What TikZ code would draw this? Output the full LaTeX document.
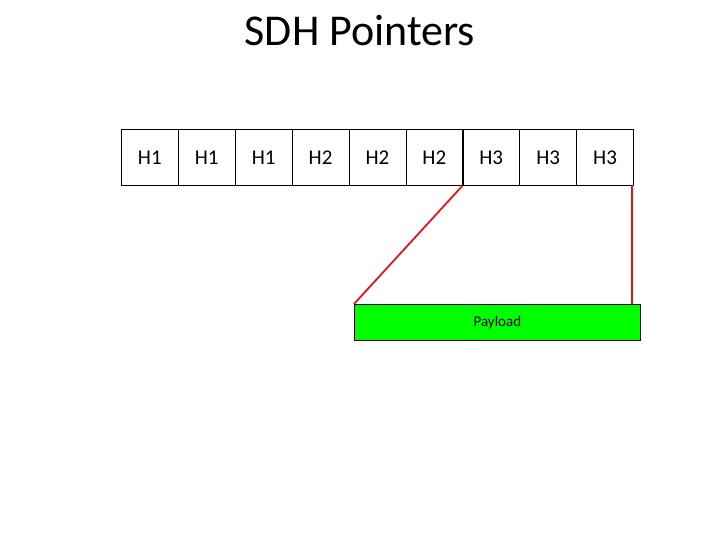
\documentclass[tikz,border=0pt]{standalone}
\usepackage{fontspec}
\setmainfont{Carlito}
\begin{document}
\begin{tikzpicture}[x=1pt,y=-1pt,
  cell/.style={draw=black,line width=0.8pt,minimum width=56.9pt,minimum height=56pt,inner sep=0pt,anchor=north west,font=\fontsize{21}{24}\selectfont},
  payloadbox/.style={draw=black,line width=0.8pt,fill={rgb,255:red,0;green,255;blue,0},minimum width=286pt,minimum height=36pt,inner sep=0pt,anchor=north west,font=\fontsize{15}{17}\selectfont},
  link/.style={draw={rgb,255:red,230;green,20;blue,20},line width=1.8pt}]
\useasboundingbox (0,0) rectangle (720,540);
\node[font=\fontsize{44}{48}\selectfont] (title) at (360,31) {SDH Pointers};
\foreach \i/\t in {0/H1,1/H1,2/H1,3/H2,4/H2,5/H2,6/H3,7/H3,8/H3}{
  \node[cell] (c\i) at ({121+\i*56.9},129) {\t};
}
\draw[line width=1.6pt] (c5.north east) -- (c5.south east);
\node[payloadbox] (pay) at (354,304) {Payload};
\coordinate (rt) at (632,185);
\coordinate (rb) at (632,304);
\draw[link] (c6.south west) -- (pay.north west);
\draw[link] (rt) -- (rb);
\end{tikzpicture}
\end{document}
